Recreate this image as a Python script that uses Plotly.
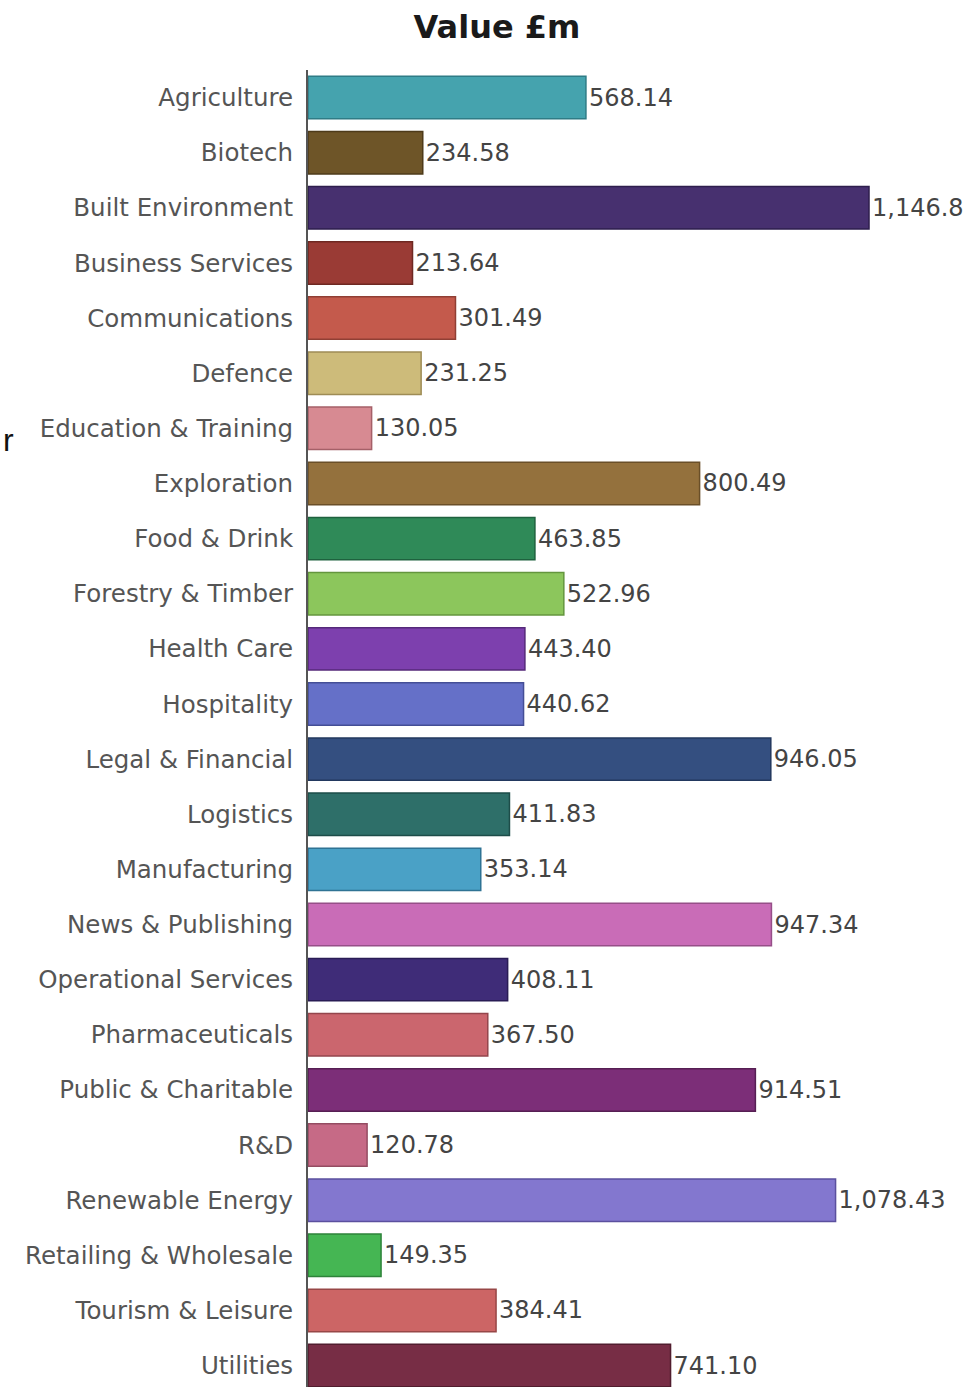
import plotly.graph_objects as go

categories = ["Agriculture", "Biotech", "Built Environment", "Business Services",
              "Communications", "Defence", "Education & Training", "Exploration",
              "Food & Drink", "Forestry & Timber", "Health Care", "Hospitality",
              "Legal & Financial", "Logistics", "Manufacturing", "News & Publishing",
              "Operational Services", "Pharmaceuticals", "Public & Charitable", "R&D",
              "Renewable Energy", "Retailing & Wholesale", "Tourism & Leisure", "Utilities"]
values = [568.14, 234.58, 1146.80, 213.64, 301.49, 231.25, 130.05, 800.49,
          463.85, 522.96, 443.40, 440.62, 946.05, 411.83, 353.14, 947.34,
          408.11, 367.50, 914.51, 120.78, 1078.43, 149.35, 384.41, 741.10]
value_labels = ["568.14", "234.58", "1,146.8", "213.64", "301.49", "231.25", "130.05",
                "800.49", "463.85", "522.96", "443.40", "440.62", "946.05", "411.83",
                "353.14", "947.34", "408.11", "367.50", "914.51", "120.78", "1,078.43",
                "149.35", "384.41", "741.10"]
colors = ["#45A3AE", "#6E5528", "#47306F", "#9A3B35", "#C45A4C", "#CDBB7A", "#D78A92",
          "#94713D", "#2F8A58", "#8CC65C", "#7D40AE", "#6570C8", "#344F80", "#2E6F69",
          "#4AA1C6", "#C96CB7", "#3F2C78", "#CB666E", "#7C2E78", "#C66A86", "#8377CF",
          "#45B653", "#CC6565", "#772D45"]
line_colors = ["#2F7C86", "#4E3B1A", "#2E1E4D", "#6E2822", "#903F34", "#9E8C55", "#A56068",
               "#6A4F28", "#1E623E", "#64963E", "#55297A", "#444E96", "#22385E", "#1D4D49",
               "#2F7394", "#964F88", "#291C55", "#94464D", "#561F53", "#944C62", "#5B509E",
               "#2E833A", "#974747", "#511D2E"]

W, H = 973, 1387
L, T = 308, 70
plot_h = H - T
spacing = 55.13
n_vis = plot_h / spacing

fig = go.Figure(go.Bar(
    x=values, y=categories, orientation="h",
    marker=dict(color=colors, line=dict(color=line_colors, width=1.5)),
    width=0.77,
    text=value_labels, texttemplate="%{text}", textposition="outside",
    textfont=dict(family="DejaVu Sans", size=24, color="#444444"),
    cliponaxis=False,
))

fig.update_layout(
    width=W, height=H,
    margin=dict(l=L, r=0, t=T, b=0, pad=0),
    paper_bgcolor="white", plot_bgcolor="white",
    showlegend=False,
    title=dict(text="<b>Value £m</b>", x=497 / W, xref="container", xanchor="center",
               y=1 - 27 / H, yref="container", yanchor="middle",
               font=dict(family="DejaVu Sans", size=32, color="#1a1a1a")),
    xaxis=dict(range=[0, (W - L) / 0.4892], showgrid=False, zeroline=False,
               showticklabels=False, ticks="", showline=False),
    yaxis=dict(range=[-0.5 + n_vis, -0.5], automargin=False, showgrid=False,
               zeroline=False, showline=True, linecolor="#555555", linewidth=2,
               ticks="", ticklabelstandoff=8,
               tickfont=dict(family="DejaVu Sans", size=24.5, color="#555555")),
    annotations=[dict(text="r", xref="paper", yref="paper",
                      x=(1 - L) / (W - L), y=(H - 440) / plot_h,
                      xanchor="left", yanchor="middle", showarrow=False,
                      font=dict(family="Liberation Sans", size=32, color="#111111"))],
)

fig.write_html("out.html")
